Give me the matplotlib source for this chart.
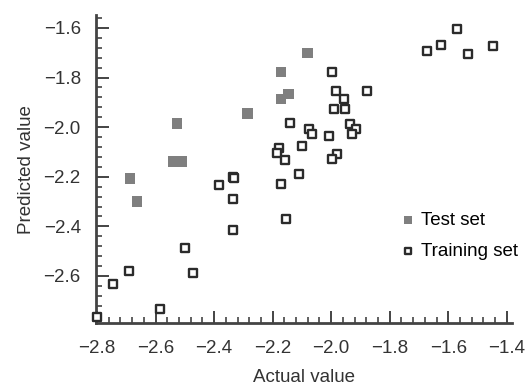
import matplotlib.pyplot as plt
from matplotlib.ticker import MultipleLocator

plt.rcParams.update({
    "font.family": "sans-serif",
    "font.sans-serif": ["Liberation Sans", "DejaVu Sans"],
    "font.size": 13.5,
})

# Test set (filled squares)
test_actual = [-2.687, -2.663, -2.527, -2.541, -2.510, -2.285, -2.172, -2.172, -2.145, -2.080]
test_pred = [-2.208, -2.300, -1.986, -2.139, -2.139, -1.946, -1.777, -1.886, -1.866, -1.701]

# Training set (open squares)
train_actual = [
    -1.571, -1.626, -1.674, -1.534, -1.449,
    -1.998, -1.879, -1.984, -1.957, -1.991, -1.954,
    -2.141, -2.076, -2.066, -2.008, -1.936, -1.916, -1.930,
    -2.100, -1.981, -1.998, -2.111,
    -2.179, -2.186, -2.158, -2.172, -2.155,
    -2.336, -2.333, -2.384, -2.336, -2.336,
    -2.500, -2.472, -2.691, -2.745, -2.585, -2.800,
]
train_pred = [
    -1.604, -1.668, -1.693, -1.705, -1.672,
    -1.777, -1.854, -1.854, -1.886, -1.926, -1.926,
    -1.982, -2.006, -2.027, -2.035, -1.986, -2.006, -2.027,
    -2.075, -2.107, -2.127, -2.188,
    -2.083, -2.103, -2.131, -2.228, -2.369,
    -2.200, -2.204, -2.232, -2.288, -2.413,
    -2.489, -2.590, -2.578, -2.634, -2.735, -2.767,
]

TEXT = "#333333"
SPINE = "#444444"

fig = plt.figure(figsize=(5.25, 3.86), dpi=100)
ax = fig.add_axes([0.183, 0.163, 0.792, 0.798])

ax.scatter(test_actual, test_pred, marker="s", s=58, color="#7f7f7f",
           edgecolors="none", label="Test set", zorder=3, clip_on=False)
ax.scatter(train_actual, train_pred, marker="s", s=36, facecolors="white",
           edgecolors="#2b2b2b", linewidths=1.7, label="Training set",
           zorder=3, clip_on=False)

ax.set_xlim(-2.803, -1.383)
ax.set_ylim(-2.79, -1.548)
ax.xaxis.set_major_locator(MultipleLocator(0.2))
ax.xaxis.set_minor_locator(MultipleLocator(0.04))
ax.yaxis.set_major_locator(MultipleLocator(0.2))
ax.yaxis.set_minor_locator(MultipleLocator(0.04))
ax.xaxis.set_major_formatter(lambda v, p: f"{v:.1f}".replace("-", "\u2212"))
ax.yaxis.set_major_formatter(lambda v, p: f"{v:.1f}".replace("-", "\u2212"))

ax.tick_params(which="both", direction="in", color=SPINE, labelcolor=TEXT,
               labelsize=13.5)
ax.tick_params(which="major", length=9, width=1.4)
ax.tick_params(which="minor", length=4, width=1.2)
ax.tick_params(axis="x", which="major", pad=12.5)
ax.tick_params(axis="y", which="major", pad=11)

for s in ("top", "right"):
    ax.spines[s].set_visible(False)
for s in ("left", "bottom"):
    ax.spines[s].set_color(SPINE)
    ax.spines[s].set_linewidth(2)

ax.set_xlabel("Actual value", color=TEXT, fontsize=13.5, labelpad=8)
ax.set_ylabel("Predicted value", color=TEXT, fontsize=13.5, labelpad=6)

ax.legend(loc="upper left", bbox_to_anchor=(0.71, 0.385), frameon=False,
          fontsize=13.5, handletextpad=0.2, markerscale=0.75, labelspacing=0.75,
          handlelength=1.0, borderaxespad=0)

fig.savefig("out.png", dpi=100, facecolor="white")
